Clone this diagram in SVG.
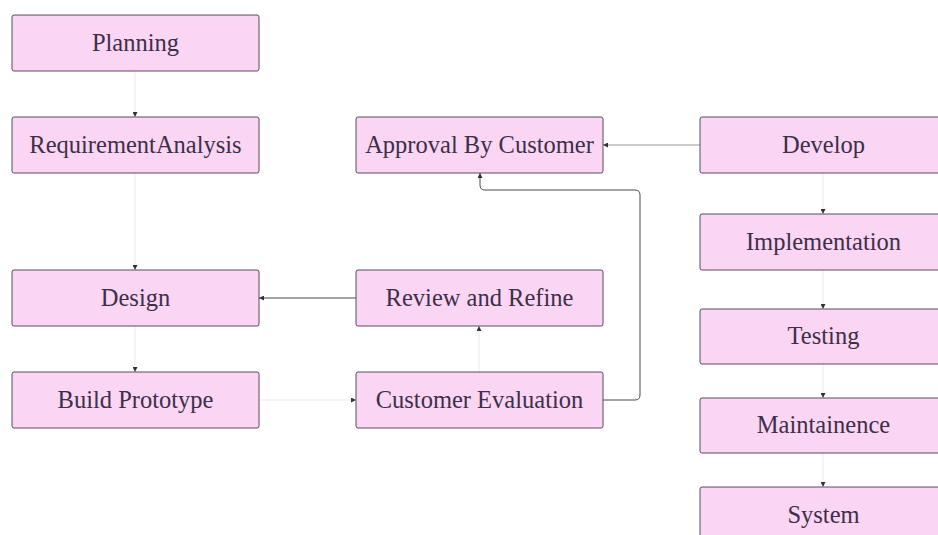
<svg xmlns="http://www.w3.org/2000/svg" width="938" height="535" viewBox="0 0 938 535">
  <style>
    .box { fill: #fbd5f4; stroke: #5b4a5e; stroke-width: 1; }
    .lbl { font-family: "Liberation Serif", "DejaVu Serif", serif; font-size: 24.5px; fill: #3d2f48; text-anchor: middle; dominant-baseline: central; }
    .faint { fill: none; stroke: #ebe7eb; stroke-width: 1; }
    .dark { fill: none; stroke: #4a4a4a; stroke-width: 1; }
    .mid { fill: none; stroke: #9a9a9a; stroke-width: 1; }
  </style>
  <defs>
    <marker id="arr" viewBox="0 0 6 6" refX="6" refY="3" markerWidth="5" markerHeight="5" markerUnits="userSpaceOnUse" orient="auto">
      <path d="M0,0 L6,3 L0,6 z" fill="#333"/>
    </marker>
  </defs>
  <rect width="938" height="535" fill="#ffffff"/>

  <g id="connectors">
    <path class="faint" d="M135,71 V117" marker-end="url(#arr)"/>
    <path class="faint" d="M135,173 V270" marker-end="url(#arr)"/>
    <path class="faint" d="M135,326 V372" marker-end="url(#arr)"/>
    <path class="faint" d="M259,400 H356" marker-end="url(#arr)"/>
    <path class="faint" d="M479,372 V326" marker-end="url(#arr)"/>
    <path class="dark" d="M356,298 H259" marker-end="url(#arr)"/>
    <path class="dark" d="M603,400 H635 Q640,400 640,395 V195 Q640,190 635,190 H485 Q480,190 480,185 V173" marker-end="url(#arr)"/>
    <path class="mid" d="M700,145 H603" marker-end="url(#arr)"/>
    <path class="faint" d="M823,173 V214" marker-end="url(#arr)"/>
    <path class="faint" d="M823,270 V309" marker-end="url(#arr)"/>
    <path class="faint" d="M823,364 V398" marker-end="url(#arr)"/>
    <path class="faint" d="M823,453 V487" marker-end="url(#arr)"/>
  </g>

  <g id="planning">
    <rect class="box" x="12" y="15" width="247" height="56" rx="2"/>
    <text class="lbl" x="135.5" y="42">Planning</text>
  </g>
  <g id="requirement-analysis">
    <rect class="box" x="12" y="117" width="247" height="56" rx="2"/>
    <text class="lbl" x="135.5" y="144">RequirementAnalysis</text>
  </g>
  <g id="design">
    <rect class="box" x="12" y="270" width="247" height="56" rx="2"/>
    <text class="lbl" x="135.5" y="297">Design</text>
  </g>
  <g id="build-prototype">
    <rect class="box" x="12" y="372" width="247" height="56" rx="2"/>
    <text class="lbl" x="135.5" y="399">Build Prototype</text>
  </g>
  <g id="approval-by-customer">
    <rect class="box" x="356" y="117" width="247" height="56" rx="2"/>
    <text class="lbl" x="479.5" y="144">Approval By Customer</text>
  </g>
  <g id="review-and-refine">
    <rect class="box" x="356" y="270" width="247" height="56" rx="2"/>
    <text class="lbl" x="479.5" y="297">Review and Refine</text>
  </g>
  <g id="customer-evaluation">
    <rect class="box" x="356" y="372" width="247" height="56" rx="2"/>
    <text class="lbl" x="479.5" y="399">Customer Evaluation</text>
  </g>
  <g id="develop">
    <rect class="box" x="700" y="117" width="247" height="56" rx="2"/>
    <text class="lbl" x="823.5" y="144">Develop</text>
  </g>
  <g id="implementation">
    <rect class="box" x="700" y="214" width="247" height="56" rx="2"/>
    <text class="lbl" x="823.5" y="241">Implementation</text>
  </g>
  <g id="testing">
    <rect class="box" x="700" y="309" width="247" height="55" rx="2"/>
    <text class="lbl" x="823.5" y="335">Testing</text>
  </g>
  <g id="maintainence">
    <rect class="box" x="700" y="398" width="247" height="55" rx="2"/>
    <text class="lbl" x="823.5" y="424">Maintainence</text>
  </g>
  <g id="system">
    <rect class="box" x="700" y="487" width="247" height="56" rx="2"/>
    <text class="lbl" x="823.5" y="514">System</text>
  </g>
</svg>
